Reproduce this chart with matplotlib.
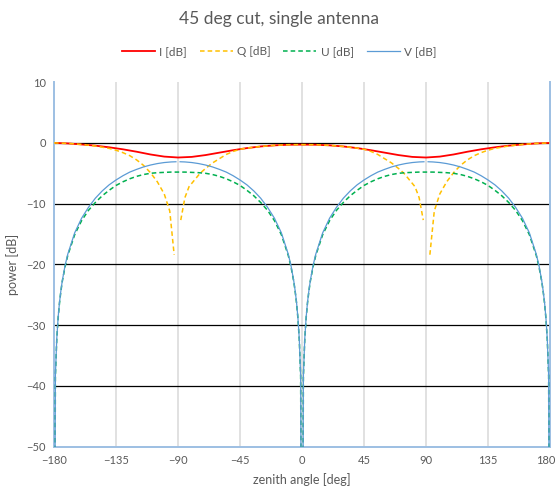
import numpy as np
import matplotlib
matplotlib.use("Agg")
import matplotlib.pyplot as plt
from matplotlib.transforms import ScaledTranslation

plt.rcParams["font.family"] = ["Lato", "DejaVu Sans"]

# Nulls of U and V fall far below the plotted range; they are stored as -100 dB.
theta_i = [-180, -170, -160, -150, -140, -130, -120, -110, -100, -90, -80, -70,
           -60, -50, -40, -30, -20, -10, 0, 10, 20, 30, 40, 50, 60, 70, 80, 90,
           100, 110, 120, 130, 140, 150, 160, 170, 180]
i_db = [0, -0.08, -0.25, -0.45, -0.72, -1.05, -1.45, -1.9, -2.25, -2.4, -2.3, -2.0,
        -1.6, -1.2, -0.85, -0.58, -0.4, -0.3, -0.28, -0.3, -0.4, -0.58, -0.85, -1.2,
        -1.6, -2.0, -2.3, -2.4, -2.25, -1.9, -1.45, -1.05, -0.72, -0.45, -0.25, -0.08, 0]

theta_q = [-180, -170, -160, -150, -140, -135, -130, -125, -120, -115, -110, -105,
           -100, -96, -92.8, -90, -88, -85, -82, -78, -74, -70, -65, -60, -55, -50,
           -45, -40, -30, -20, -10, 0,
           10, 20, 30, 40, 45, 50, 55, 60, 65, 70, 74, 78, 82, 85, 88, 90, 92.8, 96,
           100, 105, 110, 115, 120, 125, 130, 135, 140, 150, 160, 170, 180]
q_db = [0, -0.08, -0.25, -0.5, -0.9, -1.2, -1.6, -2.1, -2.8, -3.7, -4.9, -6.4,
        -8.4, -11.2, -18.4, np.nan, -12.7, -9.0, -7.2, -6.1, -5.0, -4.2, -3.3, -2.6, -1.9, -1.4,
        -1.05, -0.85, -0.58, -0.4, -0.3, -0.28,
        -0.3, -0.4, -0.58, -0.85, -1.05, -1.4, -1.9, -2.6, -3.3, -4.2, -5.0, -6.1, -7.2, -9.0,
        -12.7, np.nan, -18.4, -11.2,
        -8.4, -6.4, -4.9, -3.7, -2.8, -2.1, -1.6, -1.2, -0.9, -0.5, -0.25, -0.08, 0]

theta_u = [-180, -179, -178, -177, -176, -175, -174, -172, -170, -165, -160, -155,
           -150, -145, -140, -135, -130, -125, -120, -115, -110, -105, -100, -95,
           -90, -85, -80, -75, -70, -65, -60, -55, -50, -45, -40, -35, -30, -25,
           -20, -15, -10, -8, -6, -5, -4, -3, -2, -1, 0,
           1, 2, 3, 4, 5, 6, 8, 10, 15, 20, 25, 30, 35, 40, 45, 50, 55, 60, 65, 70,
           75, 80, 85, 90, 95, 100, 105, 110, 115, 120, 125, 130, 135, 140, 145, 150,
           155, 160, 165, 170, 172, 174, 175, 176, 177, 178, 179, 180]
u_db = [-100, -38.4, -32.3, -28.8, -26.3, -24.4, -22.8, -20.4, -18.5, -15.1, -12.8, -11.1,
        -9.8, -8.7, -7.8, -7.0, -6.4, -5.9, -5.5, -5.2, -5.0, -4.9, -4.85, -4.8,
        -4.8, -4.8, -4.85, -4.9, -5.0, -5.2, -5.5, -5.9, -6.4, -7.0, -7.8, -8.7, -9.8, -11.1,
        -12.8, -15.1, -18.5, -20.4, -22.8, -24.4, -26.3, -28.8, -32.3, -38.4, -100,
        -38.4, -32.3, -28.8, -26.3, -24.4, -22.8, -20.4, -18.5, -15.1, -12.8, -11.1, -9.8,
        -8.7, -7.8, -7.0, -6.4, -5.9, -5.5, -5.2, -5.0,
        -4.9, -4.85, -4.8, -4.8, -4.8, -4.85, -4.9, -5.0, -5.2, -5.5, -5.9, -6.4, -7.0,
        -7.8, -8.7, -9.8,
        -11.1, -12.8, -15.1, -18.5, -20.4, -22.8, -24.4, -26.3, -28.8, -32.3, -38.4, -100]

theta_v = [-180, -179, -178, -177, -176, -175, -174, -172, -170, -165, -160, -155,
           -150, -145, -140, -135, -130, -125, -120, -115, -110, -105, -100, -95,
           -91.5, -90, -88.5, -85, -80, -75, -70, -65, -60, -55, -50, -45, -40, -35,
           -30, -25, -20, -15, -10, -8, -6, -5, -4, -3, -2, -1, 0,
           1, 2, 3, 4, 5, 6, 8, 10, 15, 20, 25, 30, 35, 40, 45, 50, 55, 60, 65, 70,
           75, 80, 85, 88.5, 90, 91.5, 95, 100, 105, 110, 115, 120, 125, 130, 135, 140,
           145, 150, 155, 160, 165, 170, 172, 174, 175, 176, 177, 178, 179, 180]
v_db = [-100, -38.3, -32.2, -28.7, -26.2, -24.3, -22.7, -20.2, -18.3, -14.8, -12.4, -10.6,
        -9.1, -7.9, -6.9, -6.1, -5.4, -4.8, -4.35, -3.95, -3.64, -3.4, -3.23, -3.13,
        -3.1, np.nan, -3.1, -3.13, -3.23, -3.4, -3.64, -3.95, -4.35, -4.8, -5.4, -6.1,
        -6.9, -7.9, -9.1, -10.6, -12.4, -14.8, -18.3, -20.2, -22.7, -24.3, -26.2, -28.7,
        -32.2, -38.3, -100,
        -38.3, -32.2, -28.7, -26.2, -24.3, -22.7, -20.2, -18.3, -14.8, -12.4, -10.6, -9.1,
        -7.9, -6.9, -6.1, -5.4, -4.8, -4.35, -3.95, -3.64,
        -3.4, -3.23, -3.13, -3.1, np.nan, -3.1, -3.13, -3.23, -3.4, -3.64, -3.95, -4.35,
        -4.8, -5.4, -6.1, -6.9,
        -7.9, -9.1, -10.6, -12.4, -14.8, -18.3, -20.2, -22.7, -24.3, -26.2, -28.7, -32.2,
        -38.3, -100]

x_ticks = [-180, -135, -90, -45, 0, 45, 90, 135, 180]
y_ticks = [10, 0, -10, -20, -30, -40, -50]

text_color = "#595959"

fig = plt.figure(figsize=(5.58, 4.95), dpi=100)
ax = fig.add_axes([0.0968, 0.0976, 0.8889, 0.7364])

ax.set_xlim(-180, 180)
ax.set_ylim(-50, 10)

# gridlines: light grey verticals, black horizontals
for xv in x_ticks[1:-1]:
    ax.axvline(xv, color="#D9D9D9", lw=1.1, zorder=0)
for yv in y_ticks[1:-1]:
    ax.axhline(yv, color="#000000", lw=0.9, zorder=0.5)

ax.plot(theta_i, i_db, color="#FF0000", lw=1.3, label="I [dB]", zorder=2)
ax.plot(theta_q, q_db, color="#FFC000", lw=1.1, dashes=(3, 2), label="Q [dB]", zorder=3)
ax.plot(theta_u, u_db, color="#00B050", lw=1.1, dashes=(3, 2), label="U [dB]", zorder=4)
ax.plot(theta_v, v_db, color="#5B9BD5", lw=0.9, label="V [dB]", zorder=5)

ax.set_xticks(x_ticks)
ax.set_yticks(y_ticks)
ax.tick_params(axis="both", length=0, labelsize=8, colors=text_color, pad=6)

# keep the rightmost tick label inside the figure
last_label = ax.get_xticklabels()[-1]
last_label.set_transform(last_label.get_transform()
                         + ScaledTranslation(-3 / 72, 0, fig.dpi_scale_trans))

for side in ("left", "right", "bottom"):
    ax.spines[side].set_color("#9DBFE3")
    ax.spines[side].set_linewidth(1.4)
ax.spines["top"].set_visible(False)

ax.set_xlabel("zenith angle [deg]", fontsize=9, color=text_color, labelpad=5)
ax.set_ylabel("power [dB]", fontsize=9, color=text_color, labelpad=5)

fig.suptitle("45 deg cut, single antenna", x=0.5, y=0.978, fontsize=12.5, color=text_color)

leg = fig.legend(loc="center", bbox_to_anchor=(0.5, 0.896), ncol=4, frameon=False,
                 fontsize=8.5, handlelength=2.8, handletextpad=0.35, columnspacing=1.1,
                 labelcolor=text_color)

fig.savefig("out.png", dpi=100)
